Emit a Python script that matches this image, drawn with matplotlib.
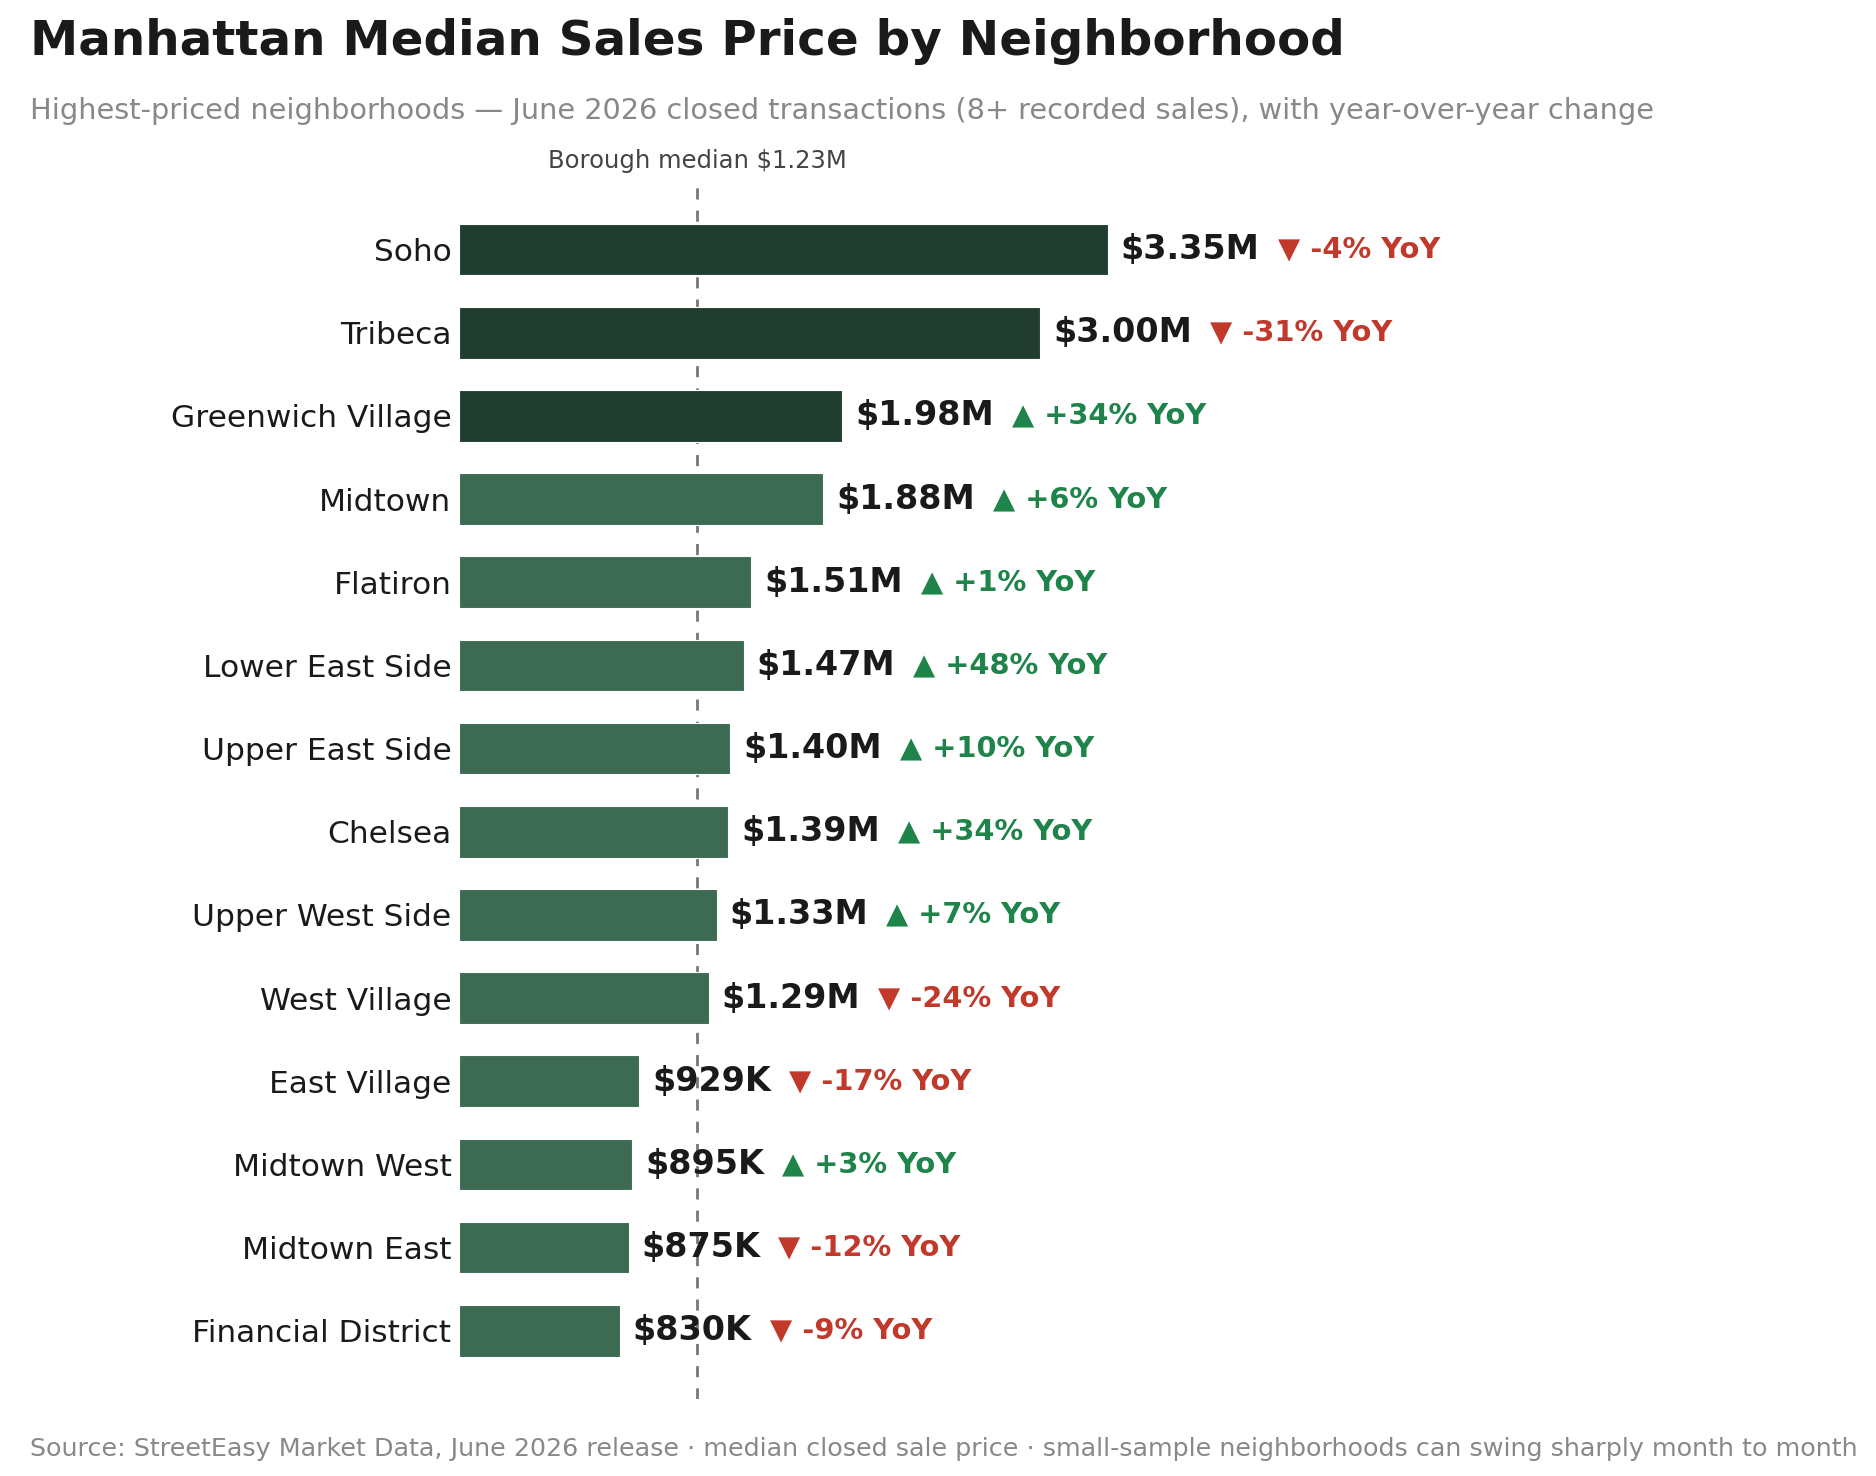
import matplotlib
matplotlib.use("Agg")
import matplotlib.pyplot as plt
from matplotlib.transforms import offset_copy

# data
neighborhoods = ["Soho", "Tribeca", "Greenwich Village", "Midtown", "Flatiron",
                 "Lower East Side", "Upper East Side", "Chelsea", "Upper West Side",
                 "West Village", "East Village", "Midtown West", "Midtown East",
                 "Financial District"]
prices = [3.35, 3.00, 1.98, 1.88, 1.51, 1.47, 1.40, 1.39, 1.33, 1.29,
          0.929, 0.895, 0.875, 0.830]  # $M
price_labels = ["$3.35M", "$3.00M", "$1.98M", "$1.88M", "$1.51M", "$1.47M", "$1.40M",
                "$1.39M", "$1.33M", "$1.29M", "$929K", "$895K", "$875K", "$830K"]
yoy = [-4, -31, 34, 6, 1, 48, 10, 34, 7, -24, -17, 3, -12, -9]  # %
borough_median = 1.23

dark = "#213d30"
mid = "#3c6a52"
red = "#c0392b"
green = "#1e8449"

fig = plt.figure(figsize=(18.76, 14.76), dpi=100)
ax = fig.add_axes([0.2447, 0.0522, 0.72, 0.8238])

colors = [dark if i < 3 else mid for i in range(len(prices))]
ypos = list(range(len(prices)))
ax.barh(ypos, prices, height=0.62, color=colors, edgecolor="white", linewidth=0.8, zorder=2)
ax.axvline(borough_median, color="#777777", linestyle=(0, (4, 4)), linewidth=2, zorder=1)

ax.set_xlim(0, 6.975)
ax.set_ylim(len(prices) - 1 + 0.82, -0.8)
ax.set_yticks(ypos)
ax.set_yticklabels(neighborhoods, fontsize=22.5, color="#1a1a1a")
ax.tick_params(axis="y", length=0, pad=5.5)
ax.set_xticks([])
for s in ax.spines.values():
    s.set_visible(False)

ax.text(borough_median, 1.008, "Borough median $1.23M", transform=ax.get_xaxis_transform(),
        ha="center", va="bottom", fontsize=17.5, color="#444444")

fig.canvas.draw()
renderer = fig.canvas.get_renderer()
for i, (p, lab, ch) in enumerate(zip(prices, price_labels, yoy)):
    t = ax.text(p, i, lab, transform=offset_copy(ax.transData, fig=fig, x=13, y=0, units="dots"),
                ha="left", va="center", fontsize=24, fontweight="bold", color="#1a1a1a", zorder=3)
    bb = t.get_window_extent(renderer)
    if ch < 0:
        s, c = "\u25bc %d%% YoY" % ch, red
    else:
        s, c = "\u25b2 +%d%% YoY" % ch, green
    x0 = ax.transData.inverted().transform((bb.x1 + 18, 0))[0]
    ax.text(x0, i, s, ha="left", va="center", fontsize=20.8, fontweight="bold", color=c, zorder=3)

fig.text(30 / 1876, 1 - 18 / 1476, "Manhattan Median Sales Price by Neighborhood",
         ha="left", va="top", fontsize=34.8, fontweight="bold", color="#1a1a1a")
fig.text(30 / 1876, 1 - 97 / 1476,
         "Highest-priced neighborhoods \u2014 June 2026 closed transactions (8+ recorded sales), with year-over-year change",
         ha="left", va="top", fontsize=20.7, color="#888888")
fig.text(30 / 1876, 1 - 1449 / 1476,
         "Source: StreetEasy Market Data, June 2026 release \u00b7 median closed sale price \u00b7 small-sample neighborhoods can swing sharply month to month",
         ha="left", va="center", fontsize=18.25, color="#888888")

fig.savefig("out.png", dpi=100)
